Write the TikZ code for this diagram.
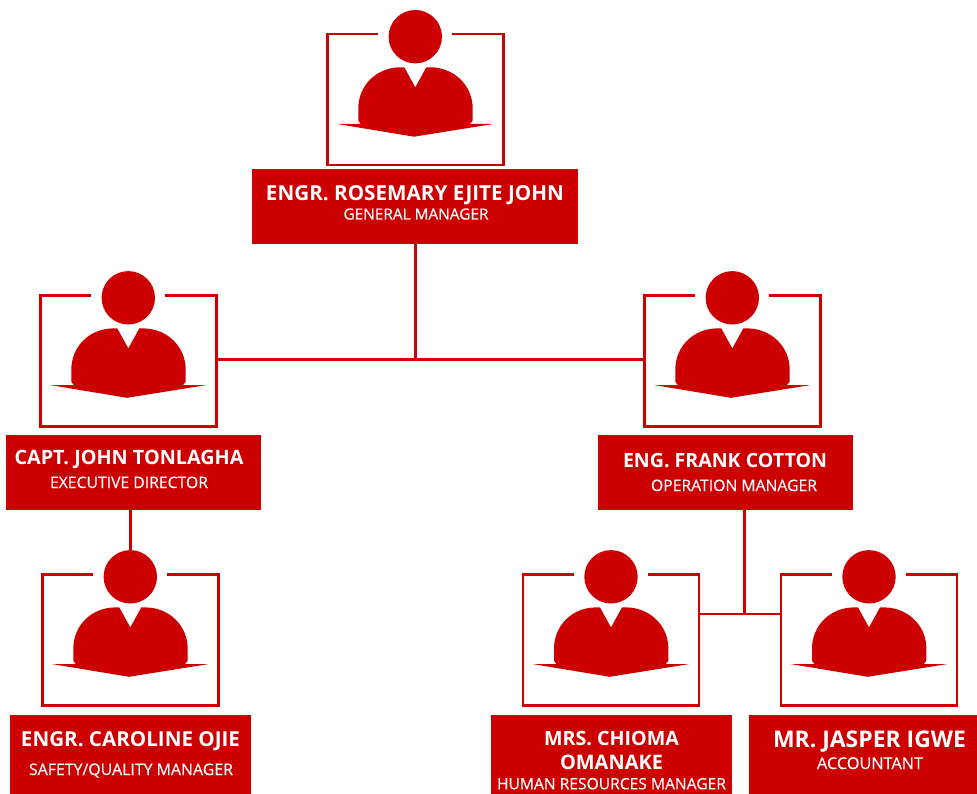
\documentclass[tikz,border=0pt]{standalone}
\usepackage{graphicx}
\usepackage{fontspec}
\setmainfont{Open Sans}
\newfontfamily\rolefont[FakeBold=0.25]{Open Sans}
\definecolor{brand}{HTML}{CC0000}
\newcommand{\fitw}[2]{\resizebox{#1pt}{!}{#2}}
\tikzset{
  x=1pt,y=-1pt,
  titlebox/.style={fill=brand,draw=none,inner sep=0pt},
  nametext/.style={text=white,inner sep=0pt,anchor=base,font=\bfseries\fontsize{19}{19}\selectfont},
  roletext/.style={text=white,inner sep=0pt,anchor=base,font=\rolefont\fontsize{15}{15}\selectfont},
  link/.style={draw=brand,line width=3pt},
  person/.pic={
    \node[circle,fill=brand,inner sep=0pt,minimum size=53.4pt] (-head) at (0,0) {};
    \node[inner sep=0pt,minimum width=177pt,minimum height=131.5pt] (-frame) at (0,63) {};
    \draw[brand,line width=2.5pt] (-37,-2.5) -- (-88,-2.5) -- (-88,128.5) -- (88,128.5) -- (88,-2.5) -- (37,-2.5);
    \fill[brand] (-57,84) -- (-57,72) .. controls (-57,48) and (-38,30.6) .. (-15,30.6) -- (-11,30.6) -- (0,50.6) -- (11,30.6) -- (15,30.6)
      .. controls (38,30.6) and (57.4,48) .. (57.4,72) -- (57.4,84) -- (54,88) -- (-54,88) -- cycle;
    \fill[brand] (-78,87.3) -- (-1.3,100) -- (78,87.3) -- cycle;
  }
}
\begin{document}
\begin{tikzpicture}
\useasboundingbox (0,0) rectangle (977,794);
\fill[white] (0,0) rectangle (977,794);
\node[titlebox,minimum width=326pt,minimum height=75pt] (gm) at (415,206.5) {};
\node[titlebox,minimum width=255pt,minimum height=75pt] (ed) at (133.5,472.5) {};
\node[titlebox,minimum width=255pt,minimum height=75pt] (om) at (725.5,472.5) {};
\node[titlebox,minimum width=241pt,minimum height=79pt] (sq) at (130.5,754.5) {};
\node[titlebox,minimum width=241pt,minimum height=79pt] (hr) at (611.5,754.5) {};
\node[titlebox,minimum width=228pt,minimum height=79pt] (ac) at (863,754.5) {};

\pic (pgm) at (415.3,36.7) {person};
\pic (ped) at (128.3,297.8) {person};
\pic (pom) at (732.3,297.8) {person};
\pic (psq) at (130.3,576.8) {person};
\pic (phr) at (611,576.8) {person};
\pic (pac) at (869,576.8) {person};

\coordinate (j1) at (415.5,359);
\coordinate (j2) at (744.5,614);
\draw[link] (gm.south -| j1) -- (j1);
\draw[link] (ped-frame.east |- j1) -- (pom-frame.west |- j1);
\draw[link,line width=2.5pt] (psq-head.north) -- (ed.south -| psq-head.north);
\draw[link,line width=2.5pt] (om.south -| j2) -- (j2);
\draw[link,line width=2.5pt] (phr-frame.east |- j2) -- (pac-frame.west |- j2);

\node[nametext] (t1) at (415,200.5) {\fitw{298}{ENGR. ROSEMARY EJITE JOHN}};
\node[roletext] (t2) at (416,219.5) {\fitw{145}{GENERAL MANAGER}};
\node[nametext] (t3) at (129,464.5) {\fitw{229}{CAPT. JOHN TONLAGHA}};
\node[roletext] (t4) at (129,488) {\fitw{158}{EXECUTIVE DIRECTOR}};
\node[nametext] (t5) at (725,467.5) {\fitw{204}{ENG. FRANK COTTON}};
\node[roletext] (t6) at (734,491) {\fitw{166}{OPERATION MANAGER}};
\node[nametext] (t7) at (130.5,746.5) {\fitw{219}{ENGR. CAROLINE OJIE}};
\node[roletext] (t8) at (131,775) {\fitw{204}{SAFETY/QUALITY MANAGER}};
\node[nametext] (t9) at (611.5,745) {\fitw{135}{MRS. CHIOMA}};
\node[nametext] (t10) at (611.5,769) {\fitw{103}{OMANAKE}};
\node[roletext] (t11) at (611.5,789.3) {\fitw{229}{HUMAN RESOURCES MANAGER}};
\node[nametext] (t12) at (869.5,747.5) {\fitw{193}{MR. JASPER IGWE}};
\node[roletext] (t13) at (870,769) {\fitw{106}{ACCOUNTANT}};
\end{tikzpicture}
\end{document}
